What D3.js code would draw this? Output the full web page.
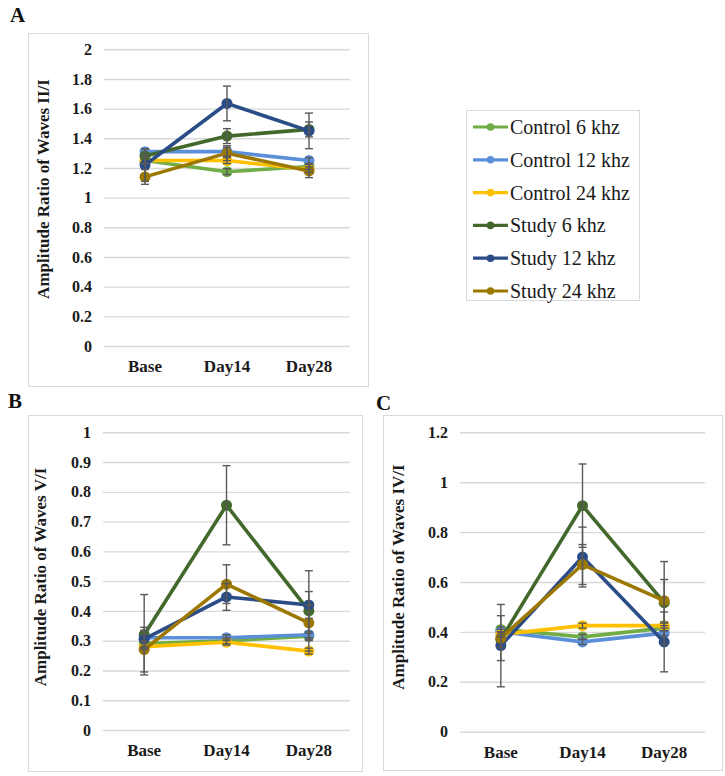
<!DOCTYPE html>
<html><head><meta charset="utf-8">
<script src="https://cdn.jsdelivr.net/npm/d3@7"></script>
<style>body{margin:0;background:#fff}svg{display:block}</style>
</head><body>
<svg id="chart" width="725" height="776"></svg>
<script>
const categories = ["Base", "Day14", "Day28"];
const seriesNames = ["Control 6 khz", "Control 12 khz", "Control 24 khz", "Study 6 khz", "Study 12 khz", "Study 24 khz"];
const seriesColors = ["#70AD47", "#5B8FD8", "#FFC000", "#43682B", "#2B4D87", "#9C7800"];

// Panel A: Amplitude Ratio of Waves II/I
const valuesA = [
  [1.25, 1.175, 1.21],
  [1.31, 1.31, 1.25],
  [1.25, 1.25, 1.19],
  [1.28, 1.415, 1.46],
  [1.22, 1.635, 1.45],
  [1.14, 1.30, 1.18]
];
const errorsA = [
  [0.02, 0.02, 0.02],
  [0.02, 0.03, 0.02],
  [0.02, 0.02, 0.02],
  [0.05, 0.05, 0.05],
  [0.11, 0.117, 0.12],
  [0.05, 0.05, 0.045]
];
const ticksA = [0, 0.2, 0.4, 0.6, 0.8, 1, 1.2, 1.4, 1.6, 1.8, 2];

// Panel B: Amplitude Ratio of Waves V/I
const valuesB = [
  [0.29, 0.30, 0.315],
  [0.31, 0.31, 0.32],
  [0.28, 0.295, 0.265],
  [0.32, 0.755, 0.40],
  [0.305, 0.447, 0.42],
  [0.27, 0.49, 0.36]
];
const errorsB = [
  [0.01, 0.01, 0.01],
  [0.01, 0.01, 0.01],
  [0.01, 0.01, 0.01],
  [0.135, 0.133, 0.135],
  [0.03, 0.045, 0.045],
  [0.075, 0.065, 0.06]
];
const ticksB = [0, 0.1, 0.2, 0.3, 0.4, 0.5, 0.6, 0.7, 0.8, 0.9, 1];

// Panel C: Amplitude Ratio of Waves IV/I
const valuesC = [
  [0.41, 0.38, 0.415],
  [0.40, 0.36, 0.395],
  [0.39, 0.425, 0.425],
  [0.37, 0.906, 0.517],
  [0.345, 0.70, 0.36],
  [0.375, 0.67, 0.525]
];
const errorsC = [
  [0.01, 0.01, 0.01],
  [0.01, 0.01, 0.01],
  [0.01, 0.01, 0.01],
  [0.03, 0.167, 0.165],
  [0.165, 0.12, 0.12],
  [0.09, 0.08, 0.085]
];
const ticksC = [0, 0.2, 0.4, 0.6, 0.8, 1, 1.2];

const svg = d3.select("#chart");
const serif = "'Liberation Serif','Times New Roman',serif";

const panels = [
  {letter: "A", lx: 10, ly: 22, frame: [28, 33, 368, 386], plot: [104, 49.3, 350, 346], max: 2,
   ticks: ticksA, values: valuesA, errors: errorsA, title: "Amplitude Ratio of  Waves II/I", tx: 45, ty: 189, r: 5.5},
  {letter: "B", lx: 8, ly: 408, frame: [28, 415, 362, 771], plot: [103, 432.3, 350, 730], max: 1,
   ticks: ticksB, values: valuesB, errors: errorsB, title: "Amplitude Ratio of Waves V/I", tx: 42, ty: 577, r: 5.5},
  {letter: "C", lx: 376, ly: 410, frame: [383, 415, 722, 770], plot: [460, 432.3, 705, 731.7], max: 1.2,
   ticks: ticksC, values: valuesC, errors: errorsC, title: "Amplitude Ratio of Waves IV/I", tx: 400, ty: 577, r: 5.5}
];

panels.forEach(p => {
  const g = svg.append("g");
  const [fx0, fy0, fx1, fy1] = p.frame;
  const [px0, py0, px1, py1] = p.plot;
  g.append("rect").attr("x", fx0 + 0.5).attr("y", fy0 + 0.5)
    .attr("width", fx1 - fx0).attr("height", fy1 - fy0)
    .attr("fill", "#fff").attr("stroke", "#d9d9d9").attr("stroke-width", 1);
  svg.append("text").attr("x", p.lx).attr("y", p.ly).text(p.letter)
    .attr("font-family", serif).attr("font-weight", "bold").attr("font-size", 21).attr("fill", "#111");

  const y = d3.scaleLinear().domain([0, p.max]).range([py1, py0]);
  const x = d3.scaleBand().domain(categories).range([px0, px1]);

  const yAxis = d3.axisLeft(y).tickValues(p.ticks).tickSize(-(px1 - px0)).tickPadding(12)
    .tickFormat(d => d3.format("~g")(+d.toFixed(2)));
  const ya = g.append("g").attr("transform", `translate(${px0},0)`).call(yAxis);
  ya.select(".domain").remove();
  ya.selectAll(".tick line").attr("stroke", "#d9d9d9").attr("stroke-width", 1.4);
  ya.selectAll(".tick text").attr("font-family", serif).attr("font-weight", "bold")
    .attr("font-size", 16).attr("fill", "#1a1a1a");

  const xAxis = d3.axisBottom(x).tickSize(0).tickPadding(14);
  const xa = g.append("g").attr("transform", `translate(0,${py1})`).call(xAxis);
  xa.select(".domain").remove();
  xa.selectAll(".tick text").attr("font-family", serif).attr("font-weight", "bold")
    .attr("font-size", 17).attr("fill", "#1a1a1a");

  g.append("text").attr("transform", `translate(${p.tx},${p.ty}) rotate(-90)`)
    .attr("text-anchor", "middle").attr("dominant-baseline", "middle")
    .attr("font-family", serif).attr("font-weight", "bold").attr("font-size", 17)
    .attr("fill", "#1a1a1a").text(p.title);

  const cx = c => x(c) + x.bandwidth() / 2;
  const line = d3.line().x((d, i) => cx(categories[i])).y(d => y(d));

  p.values.forEach((vals, s) => {
    g.append("path").datum(vals).attr("d", line).attr("fill", "none")
      .attr("stroke", seriesColors[s]).attr("stroke-width", 3.6).attr("stroke-linejoin", "round");
    g.selectAll(null).data(vals).enter().append("circle")
      .attr("cx", (d, i) => cx(categories[i])).attr("cy", d => y(d)).attr("r", p.r)
      .attr("fill", seriesColors[s]);
  });

  p.values.forEach((vals, s) => {
    vals.forEach((v, i) => {
      const e = p.errors[s][i];
      const xc = cx(categories[i]);
      const eg = g.append("g").attr("stroke", "#595959").attr("stroke-width", 1.4);
      eg.append("line").attr("x1", xc).attr("x2", xc).attr("y1", y(v - e)).attr("y2", y(v + e));
      [v - e, v + e].forEach(t => eg.append("line").attr("x1", xc - 4).attr("x2", xc + 4)
        .attr("y1", y(t)).attr("y2", y(t)));
    });
  });
});

// Legend
const lg = svg.append("g");
lg.append("rect").attr("x", 466.5).attr("y", 110.5).attr("width", 173).attr("height", 190)
  .attr("fill", "#fff").attr("stroke", "#d9d9d9");
const ly = d3.scalePoint().domain(seriesNames).range([127, 291]);
seriesNames.forEach((n, s) => {
  const yy = ly(n);
  lg.append("line").attr("x1", 473).attr("x2", 508).attr("y1", yy).attr("y2", yy)
    .attr("stroke", seriesColors[s]).attr("stroke-width", 3.2);
  lg.append("circle").attr("cx", 490.5).attr("cy", yy).attr("r", 3.8).attr("fill", seriesColors[s]);
  lg.append("text").attr("x", 510).attr("y", yy).attr("dy", "0.35em").text(n)
    .attr("font-family", serif).attr("font-size", 20).attr("fill", "#1a1a1a");
});
</script>
</body></html>
